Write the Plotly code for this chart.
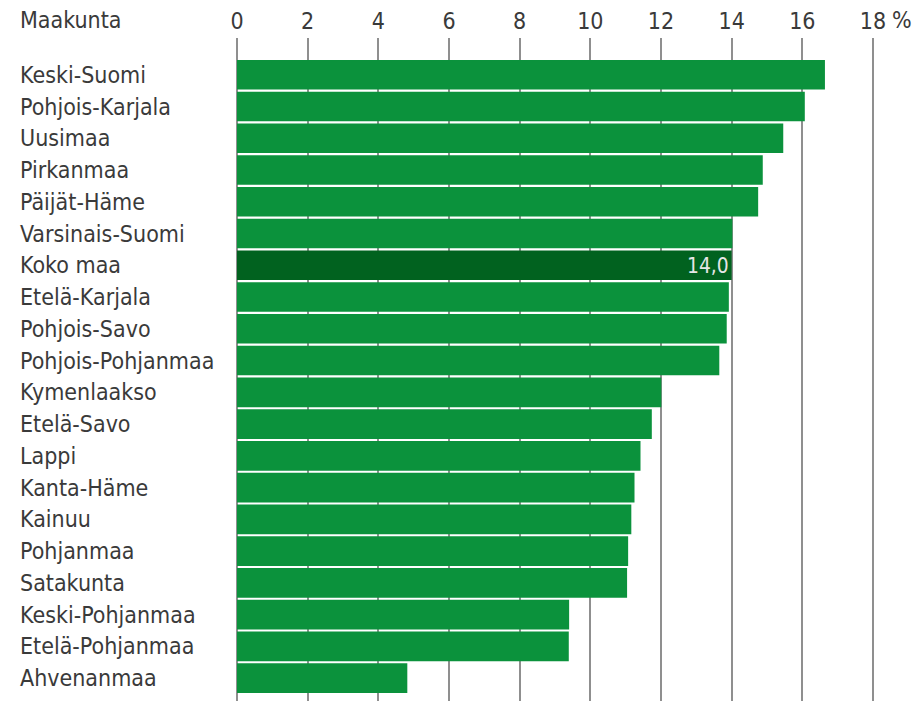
import plotly.graph_objects as go

# Maakunnat ja osuudet (%)
maakunnat = [
    "Keski-Suomi", "Pohjois-Karjala", "Uusimaa", "Pirkanmaa", "Päijät-Häme",
    "Varsinais-Suomi", "Koko maa", "Etelä-Karjala", "Pohjois-Savo",
    "Pohjois-Pohjanmaa", "Kymenlaakso", "Etelä-Savo", "Lappi", "Kanta-Häme",
    "Kainuu", "Pohjanmaa", "Satakunta", "Keski-Pohjanmaa", "Etelä-Pohjanmaa",
    "Ahvenanmaa",
]
osuudet = [
    16.64, 16.07, 15.46, 14.88, 14.75,
    14.02, 14.0, 13.92, 13.86,
    13.65, 12.01, 11.74, 11.42, 11.25,
    11.16, 11.07, 11.04, 9.40, 9.39,
    4.82,
]
x_ticks = [0, 2, 4, 6, 8, 10, 12, 14, 16, 18]
x_ticktext = ["0", "2", "4", "6", "8", "10", "12", "14", "16", "18"]
korostus = "Koko maa"

FONT = "DejaVu Sans Condensed, Liberation Sans Narrow, Roboto, sans-serif"
TEXT_COLOR = "#3a3a3a"
GREEN = "#0b923c"
DARK_GREEN = "#01621f"
FS = 23

rivit = list(range(len(maakunnat)))
varit = [DARK_GREEN if m == korostus else GREEN for m in maakunnat]
tekstit = [f"{v:.1f}".replace(".", ",") if m == korostus else "" for m, v in zip(maakunnat, osuudet)]

fig = go.Figure(
    go.Bar(
        x=osuudet,
        y=rivit,
        orientation="h",
        marker=dict(color=varit, line=dict(width=0)),
        text=tekstit,
        textposition="inside",
        insidetextanchor="end",
        textfont=dict(family=FONT, size=FS, color="#e6e6e6"),
        hoverinfo="skip",
    )
)

fig.update_layout(
    width=917,
    height=701,
    margin=dict(l=237, r=0, t=38, b=0),
    paper_bgcolor="white",
    plot_bgcolor="white",
    bargap=0.07,
    showlegend=False,
    font=dict(family=FONT, size=FS, color=TEXT_COLOR),
)

fig.update_xaxes(
    range=[0, 680 / 35.333],
    side="top",
    tickmode="array",
    tickvals=x_ticks,
    ticktext=x_ticktext,
    showgrid=True,
    gridcolor="#8f8f8f",
    gridwidth=1.6,
    zeroline=True,
    zerolinecolor="#8f8f8f",
    zerolinewidth=1.6,
    showline=False,
    ticks="",
    ticklabelstandoff=3,
    tickfont=dict(family=FONT, size=FS, color=TEXT_COLOR),
)

fig.update_yaxes(
    range=[len(maakunnat) - 0.5 + 0.22, -0.5 - 0.66],
    showticklabels=False,
    showgrid=False,
    zeroline=False,
    showline=False,
    ticks="",
)

# Maakuntien nimet vasemmalle tasattuina
for i, nimi in enumerate(maakunnat):
    fig.add_annotation(
        x=(18 - 237) / 680, xref="paper", y=i, yref="y",
        text=nimi, showarrow=False, xanchor="left", yanchor="middle",
        font=dict(family=FONT, size=FS, color=TEXT_COLOR),
    )

fig.add_annotation(
    x=(18 - 237) / 680, xref="paper", y=1, yref="paper", yshift=3,
    text="Maakunta", showarrow=False, xanchor="left", yanchor="bottom",
    font=dict(family=FONT, size=FS, color=TEXT_COLOR),
)
fig.add_annotation(
    x=18, xref="x", y=1, yref="paper", xshift=17, yshift=3,
    text="%", showarrow=False, xanchor="left", yanchor="bottom",
    font=dict(family=FONT, size=FS, color=TEXT_COLOR),
)

fig.write_html("out.html")
